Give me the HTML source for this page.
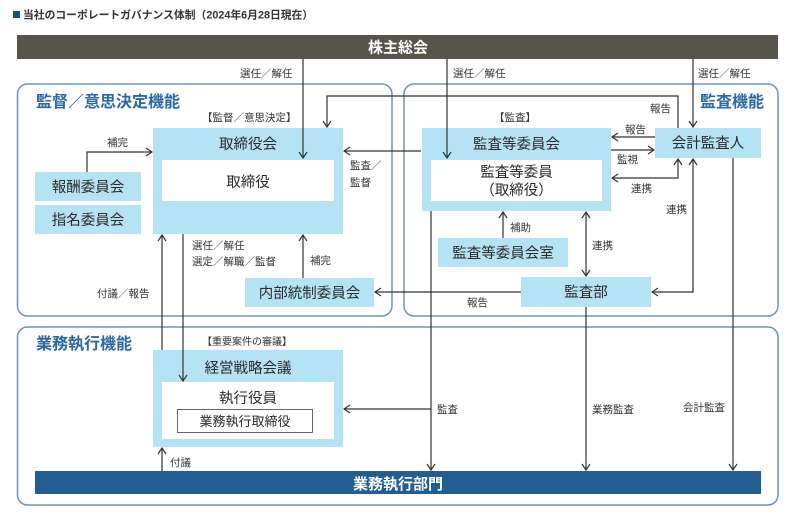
<!DOCTYPE html>
<html><head><meta charset="utf-8">
<style>
html,body{margin:0;padding:0;background:#fff;}
svg{display:block;}
text{font-family:"Liberation Sans","Noto Sans CJK JP",sans-serif;fill:#333;}
.l{font-size:10.5px;}
.b{font-size:14.5px;text-anchor:middle;fill:#2a2a2a;}
.s{font-size:16px;font-weight:bold;fill:#2c69a0;}
.ln{stroke:#333;stroke-width:1.2;fill:none;}
.bx{fill:#b5e3f6;}
.w{fill:#fff;}
</style></head>
<body>
<svg width="800" height="520" viewBox="0 0 800 520" xmlns="http://www.w3.org/2000/svg">
<defs>
<marker id="a" viewBox="0 0 10 10" refX="9" refY="5" markerWidth="10" markerHeight="10" markerUnits="userSpaceOnUse" orient="auto-start-reverse">
<path d="M3,1 L9,5 L3,9" fill="none" stroke="#333" stroke-width="1.2"/>
</marker>
</defs>

<!-- title -->
<rect x="13" y="11" width="7" height="7" fill="#1d4f7c"/>
<text x="23" y="18.5" style="font-size:10.8px;font-weight:bold;fill:#333">当社のコーポレートガバナンス体制（2024年6月28日現在）</text>

<!-- top bar -->
<rect x="17" y="35" width="761" height="24" fill="#57544b"/>
<text x="398" y="52.5" style="font-size:15px;font-weight:bold;fill:#fff;text-anchor:middle">株主総会</text>

<!-- section boxes -->
<rect x="17.5" y="84" width="374.5" height="232" rx="10" fill="none" stroke="#6d93bb" stroke-width="1.5"/>
<rect x="404" y="84" width="374" height="232" rx="10" fill="none" stroke="#6d93bb" stroke-width="1.5"/>
<rect x="17.5" y="327" width="760.5" height="178" rx="10" fill="none" stroke="#6d93bb" stroke-width="1.5"/>

<text class="s" x="36" y="107">監督／意思決定機能</text>
<text class="s" x="700" y="107">監査機能</text>
<text class="s" x="36" y="349">業務執行機能</text>

<!-- boxes -->
<rect class="bx" x="153" y="128" width="190" height="106"/>
<rect class="w" x="162" y="160" width="172" height="41"/>
<text class="b" x="248" y="149">取締役会</text>
<text class="b" x="248" y="187">取締役</text>

<rect class="bx" x="35" y="172" width="106" height="29"/>
<text class="b" x="88" y="192">報酬委員会</text>
<rect class="bx" x="35" y="205" width="106" height="29"/>
<text class="b" x="88" y="225">指名委員会</text>

<rect class="bx" x="245" y="278" width="129" height="29"/>
<text class="b" x="309.5" y="298">内部統制委員会</text>

<rect class="bx" x="422" y="128" width="189" height="83"/>
<rect class="w" x="431" y="160" width="171" height="41"/>
<text class="b" x="516.5" y="149">監査等委員会</text>
<text class="b" x="516.5" y="177">監査等委員</text>
<text class="b" x="516.5" y="195">（取締役）</text>

<rect class="bx" x="655" y="128" width="106" height="30"/>
<text class="b" x="708" y="148">会計監査人</text>

<rect class="bx" x="438" y="238" width="130" height="29"/>
<text class="b" x="503" y="258">監査等委員会室</text>

<rect class="bx" x="521" y="277" width="130" height="30"/>
<text class="b" x="586" y="297">監査部</text>

<rect class="bx" x="153" y="350" width="190" height="97"/>
<rect class="w" x="162" y="382" width="172" height="57"/>
<text class="b" x="248" y="373">経営戦略会議</text>
<text class="b" x="248" y="403">執行役員</text>
<rect x="177.5" y="409.5" width="135" height="23" fill="#fff" stroke="#666" stroke-width="1"/>
<text class="b" x="245" y="426" style="font-size:13px">業務執行取締役</text>

<rect x="35" y="471" width="726" height="23" fill="#225e91"/>
<text x="398" y="489" style="font-size:15px;font-weight:bold;fill:#fff;text-anchor:middle">業務執行部門</text>

<!-- labels -->
<text class="l" x="240" y="77">選任／解任</text>
<text class="l" x="453" y="77">選任／解任</text>
<text class="l" x="698" y="77">選任／解任</text>
<text class="l" x="202" y="121">【監督／意思決定】</text>
<text class="l" x="494" y="121">【監査】</text>
<text class="l" x="650" y="112">報告</text>
<text class="l" x="107" y="146">補完</text>
<text class="l" x="350" y="169">監査／</text>
<text class="l" x="350" y="186">監督</text>
<text class="l" x="625" y="133">報告</text>
<text class="l" x="617" y="163">監視</text>
<text class="l" x="631" y="192">連携</text>
<text class="l" x="666" y="213">連携</text>
<text class="l" x="510" y="231">補助</text>
<text class="l" x="592" y="249">連携</text>
<text class="l" x="192" y="249">選任／解任</text>
<text class="l" x="192" y="265">選定／解職／監督</text>
<text class="l" x="310" y="264">補完</text>
<text class="l" x="97" y="297">付議／報告</text>
<text class="l" x="467" y="306">報告</text>
<text class="l" x="202" y="345" style="font-size:10px">【重要案件の審議】</text>
<text class="l" x="437" y="413">監査</text>
<text class="l" x="592" y="413">業務監査</text>
<text class="l" x="683" y="411">会計監査</text>
<text class="l" x="170" y="466">付議</text>

<!-- connectors -->
<line class="ln" x1="303" y1="59" x2="303" y2="158" marker-end="url(#a)"/>
<line class="ln" x1="447" y1="59" x2="447" y2="158" marker-end="url(#a)"/>
<line class="ln" x1="693" y1="59" x2="693" y2="127" marker-end="url(#a)"/>
<polyline class="ln" points="678,128 678,96 327,96 327,127" marker-end="url(#a)"/>
<polyline class="ln" points="87,172 87,152 152,152" marker-end="url(#a)"/>
<line class="ln" x1="421" y1="151" x2="344" y2="151" marker-end="url(#a)"/>
<line class="ln" x1="655" y1="137" x2="612" y2="137" marker-end="url(#a)"/>
<line class="ln" x1="611" y1="150" x2="654" y2="150" marker-end="url(#a)"/>
<polyline class="ln" points="612,178 678,178 678,159" marker-start="url(#a)" marker-end="url(#a)"/>
<polyline class="ln" points="693,159 693,292 652,292" marker-start="url(#a)" marker-end="url(#a)"/>
<line class="ln" x1="733" y1="158" x2="733" y2="470" marker-end="url(#a)"/>
<line class="ln" x1="503" y1="238" x2="503" y2="212" marker-end="url(#a)"/>
<line class="ln" x1="586" y1="212" x2="586" y2="276" marker-start="url(#a)" marker-end="url(#a)"/>
<line class="ln" x1="521" y1="292" x2="375" y2="292" marker-end="url(#a)"/>
<line class="ln" x1="303" y1="278" x2="303" y2="235" marker-end="url(#a)"/>
<line class="ln" x1="162" y1="350" x2="162" y2="235" marker-end="url(#a)"/>
<line class="ln" x1="183" y1="234" x2="183" y2="381" marker-end="url(#a)"/>
<line class="ln" x1="431" y1="211" x2="431" y2="470" marker-end="url(#a)"/>
<line class="ln" x1="431" y1="409" x2="344" y2="409" marker-end="url(#a)"/>
<line class="ln" x1="586" y1="307" x2="586" y2="470" marker-end="url(#a)"/>
<line class="ln" x1="162" y1="471" x2="162" y2="448" marker-end="url(#a)"/>
</svg>
</body></html>
